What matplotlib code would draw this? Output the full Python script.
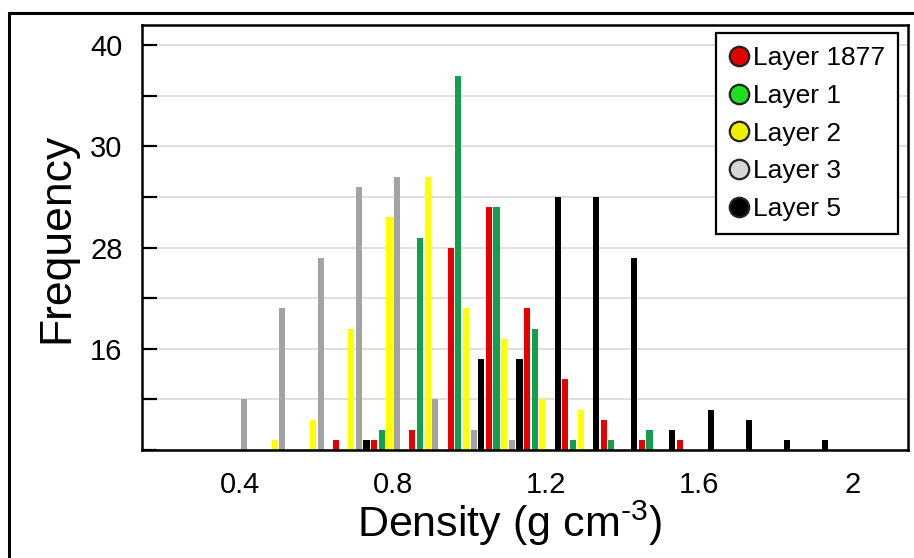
import matplotlib
matplotlib.use('Agg')
import matplotlib.pyplot as plt
import numpy as np
from matplotlib.lines import Line2D
from matplotlib.patches import Rectangle
from matplotlib.ticker import MultipleLocator

plt.rcParams['font.family'] = ['Liberation Sans', 'DejaVu Sans']
plt.rcParams['mathtext.fontset'] = 'custom'
plt.rcParams['mathtext.rm'] = 'Liberation Sans'

# density bins (g cm-3) and counts per layer
density = [0.4, 0.5, 0.6, 0.7, 0.8, 0.9, 1.0, 1.1, 1.2, 1.3, 1.4, 1.5, 1.6, 1.7, 1.8, 1.9, 2.0]
layer_5 = [0, 0, 0, 0, 1, 0, 0, 9, 9, 25, 25, 19, 2, 4, 3, 1, 1]
layer_1877 = [0, 0, 0, 1, 1, 2, 20, 24, 14, 7, 3, 1, 1, 0, 0, 0, 0]
layer_1 = [0, 0, 0, 0, 2, 21, 37, 24, 12, 1, 1, 2, 0, 0, 0, 0, 0]
layer_2 = [0, 1, 3, 12, 23, 27, 14, 11, 5, 4, 0, 0, 0, 0, 0, 0, 0]
layer_3 = [5, 14, 19, 26, 27, 5, 2, 1, 0, 0, 0, 0, 0, 0, 0, 0, 0]

x_ticks = [0.4, 0.8, 1.2, 1.6, 2.0]
x_tick_labels = ['0.4', '0.8', '1.2', '1.6', '2']
y_ticks = [10, 20, 30, 40]
y_tick_labels = ['16', '28', '30', '40']


def main():
    fig = plt.figure(figsize=(9.14, 5.58), dpi=100)
    ax = fig.add_axes([0.1554, 0.1935, 0.838, 0.7617])

    # bars drawn side by side inside each bin
    series = [
        (layer_5, '#000000', -0.07),
        (layer_1877, '#e60000', -0.05),
        (layer_1, '#12a04c', -0.03),
        (layer_2, '#ffff00', -0.01),
        (layer_3, '#a3a3a3', 0.01),
    ]
    x = np.array(density)
    for counts, color, offset in series:
        ax.bar(x + offset, counts, width=0.016, color=color,
               linewidth=0, zorder=2)

    ax.set_xlim(0.143, 2.146)
    ax.set_ylim(0, 42)

    ax.set_xticks(x_ticks)
    ax.set_xticklabels(x_tick_labels)
    ax.tick_params(axis='x', length=0, pad=15, labelsize=21)

    ax.set_yticks(y_ticks)
    ax.set_yticklabels(y_tick_labels)
    ax.yaxis.set_minor_locator(MultipleLocator(5))
    ax.tick_params(axis='y', which='both', direction='in', length=11,
                   width=1.6, pad=14, labelsize=21)

    ax.grid(True, axis='y', which='both', color='#d9d9d9', lw=1.2, zorder=0)
    ax.set_axisbelow(True)
    for spine in ax.spines.values():
        spine.set_linewidth(1.8)

    ax.set_xlabel(r'Density (g cm$^{\text{-3}}$)', fontsize=31)
    ax.xaxis.set_label_coords(0.479, -0.115)
    ax.set_ylabel('Frequency', fontsize=32, labelpad=9)

    # legend with round markers
    names = ['Layer 1877', 'Layer 1', 'Layer 2', 'Layer 3', 'Layer 5']
    marker_colors = ['#e00000', '#1ee01e', '#eeee00', '#d6d6d6', '#000000']
    handles = [Line2D([], [], ls='none', marker='o', markersize=14,
                      markerfacecolor=c, markeredgecolor='#222222',
                      markeredgewidth=1.6) for c in marker_colors]
    leg = ax.legend(handles, names, loc='upper right',
                    bbox_to_anchor=(0.987, 0.981), borderaxespad=0,
                    fontsize=19, handlelength=0.8, handletextpad=0.1,
                    labelspacing=0.52, borderpad=0.5, fancybox=False,
                    edgecolor='black', framealpha=1)
    leg.get_frame().set_linewidth(1.6)

    # outer frame around the figure
    fig.patches.append(Rectangle((9 / 914, -0.2), 1.2, 1.2 - 13 / 558,
                                 transform=fig.transFigure, fill=False,
                                 edgecolor='black', linewidth=2.2))

    fig.savefig('out.png', dpi=100)


if __name__ == '__main__':
    main()
